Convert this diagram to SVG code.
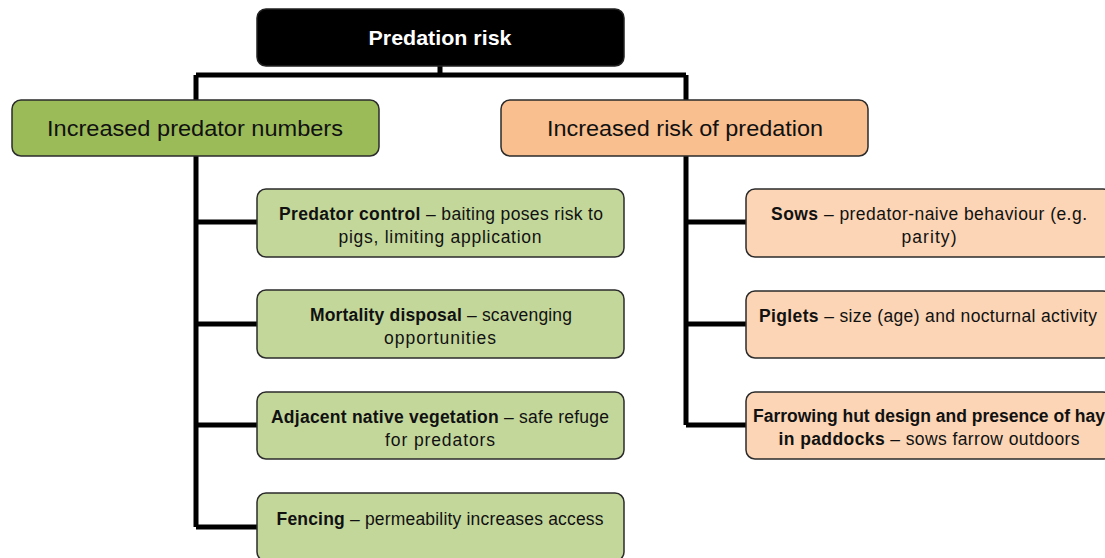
<svg xmlns="http://www.w3.org/2000/svg" width="1105" height="558" viewBox="0 0 1105 558">
<style>
text{font-family:"Liberation Sans",Arial,sans-serif;fill:#111;text-anchor:middle}
.c{font-size:17.5px}
.h{font-size:22px}
.t{font-size:21px}
.b{font-weight:bold}
.box{stroke:#2b2b2b;stroke-width:1.5}
.g1{fill:#9BBB59}.o1{fill:#F9BF8F}.g2{fill:#C4D79B}.o2{fill:#FBD5B5}
.ln{stroke:#000;stroke-width:5;fill:none}
</style>
<g id="connectors">
<path class="ln" d="M440 66V75M196 75H686M196 75V100M686 75V100"/>
<path class="ln" d="M196 156V527M196 222H257M196 324H257M196 425H257M196 527H257"/>
<path class="ln" d="M686 156V425M686 222H746M686 324H746M686 425H746"/>
</g>
<g id="root">
<rect x="257" y="9" width="367" height="57" rx="9" fill="#000" stroke="#222" stroke-width="1.5"/>
<text x="440" y="45" class="t b" style="fill:#fff" textLength="143" lengthAdjust="spacingAndGlyphs">Predation risk</text>
</g>
<g id="predator-numbers">
<rect class="box g1" x="12" y="100" width="367" height="56" rx="9"/>
<text x="195" y="136" class="h" textLength="296" lengthAdjust="spacingAndGlyphs">Increased predator numbers</text>
</g>
<g id="risk-of-predation">
<rect class="box o1" x="501" y="100" width="367" height="56" rx="9"/>
<text x="685" y="136" class="h" textLength="276" lengthAdjust="spacingAndGlyphs">Increased risk of predation</text>
</g>
<g id="predator-control">
<rect class="box g2" x="257" y="189" width="367" height="68" rx="9"/>
<text x="441" y="220" class="c" textLength="324"><tspan class="b">Predator control</tspan> – baiting poses risk to</text>
<text x="440" y="243" class="c" textLength="203">pigs, limiting application</text>
</g>
<g id="mortality-disposal">
<rect class="box g2" x="257" y="290" width="367" height="68" rx="9"/>
<text x="441" y="321" class="c" textLength="262"><tspan class="b">Mortality disposal</tspan> – scavenging</text>
<text x="440" y="344" class="c" textLength="112">opportunities</text>
</g>
<g id="native-vegetation">
<rect class="box g2" x="257" y="392" width="367" height="67" rx="9"/>
<text x="440" y="423" class="c" textLength="338"><tspan class="b">Adjacent native vegetation</tspan> – safe refuge</text>
<text x="440" y="446" class="c" textLength="110">for predators</text>
</g>
<g id="fencing">
<rect class="box g2" x="257" y="493" width="367" height="68" rx="9"/>
<text x="440" y="525" class="c" textLength="327"><tspan class="b">Fencing</tspan> – permeability increases access</text>
</g>
<g id="sows">
<rect class="box o2" x="746" y="189" width="366" height="68" rx="9"/>
<text x="929" y="220" class="c" textLength="316"><tspan class="b">Sows</tspan> – predator-naive behaviour (e.g.</text>
<text x="929" y="243" class="c" textLength="55">parity)</text>
</g>
<g id="piglets">
<rect class="box o2" x="746" y="291" width="366" height="67" rx="9"/>
<text x="928" y="322" class="c" textLength="338"><tspan class="b">Piglets</tspan> – size (age) and nocturnal activity</text>
</g>
<g id="farrowing">
<rect class="box o2" x="746" y="392" width="366" height="67" rx="9"/>
<text x="929" y="422" class="c b" textLength="352">Farrowing hut design and presence of hay</text>
<text x="929" y="445" class="c" textLength="301"><tspan class="b">in paddocks</tspan> – sows farrow outdoors</text>
</g>
</svg>
